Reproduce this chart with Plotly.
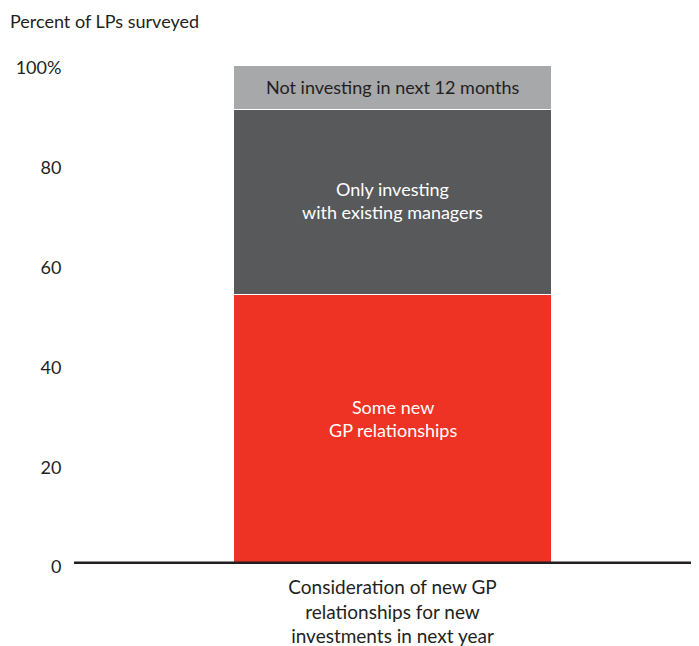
import plotly.graph_objects as go

category = ["Consideration of new GP<br>relationships for new<br>investments in next year"]
series_names = ["Some new<br>GP relationships", "Only investing<br>with existing managers", "Not investing in next 12 months"]
series_values = [[54], [37], [9]]
series_colors = ["#ee3224", "#58595b", "#a7a8aa"]
text_colors = ["#ffffff", "#ffffff", "#231f20"]
label_yshift = [11, 2, 0]
y_tickvals = [0, 20, 40, 60, 80, 100]
y_ticktext = ["0", "20", "40", "60", "80", "100%"]

FONT = "Lato"
INK = "#231f20"
# browser page adds an 8px body margin; figure is sized so it lands in the 699x646 window
W, H, OFF = 691, 638, 8

fig = go.Figure()
annotations = []
base = 0
for name, vals, col, tc, ys in zip(series_names, series_values, series_colors, text_colors, label_yshift):
    fig.add_trace(go.Bar(
        x=category, y=vals, name=name, width=0.51,
        marker=dict(color=col, line=dict(color="white", width=1)),
        hoverinfo="skip",
    ))
    annotations.append(dict(
        text=name, x=category[0], y=base + vals[0] / 2, xref="x", yref="y",
        showarrow=False, yshift=ys, align="center",
        font=dict(family=FONT, size=18, color=tc),
    ))
    base += vals[0]

fig.update_layout(
    barmode="stack",
    width=W, height=H,
    margin=dict(l=74 - OFF, r=0, t=65 - OFF, b=81.5, pad=0),
    paper_bgcolor="white", plot_bgcolor="white",
    showlegend=False,
    font=dict(family=FONT, size=18, color=INK),
    title=dict(text="Percent of LPs surveyed", x=(10 - OFF) / W, xanchor="left", xref="container",
               y=1 - (22 - OFF) / H, yanchor="middle", yref="container",
               font=dict(family=FONT, size=18, color=INK)),
    xaxis=dict(range=[-0.5096, 0.4904], showgrid=False, zeroline=False, showline=False,
               ticks="outside", ticklen=6, tickcolor="rgba(0,0,0,0)",
               tickfont=dict(family=FONT, size=19, color=INK)),
    yaxis=dict(range=[0, 100], tickvals=y_tickvals, ticktext=y_ticktext,
               showgrid=False, zeroline=False, showline=False,
               ticks="outside", ticklen=8, tickcolor="rgba(0,0,0,0)",
               ticklabelshift=3,
               tickfont=dict(family=FONT, size=18, color=INK)),
    shapes=[dict(type="line", xref="paper", x0=0, x1=1, yref="y", y0=0, y1=0,
                 line=dict(color=INK, width=5), layer="above")],
    annotations=annotations,
)

fig.write_html("out.html")
